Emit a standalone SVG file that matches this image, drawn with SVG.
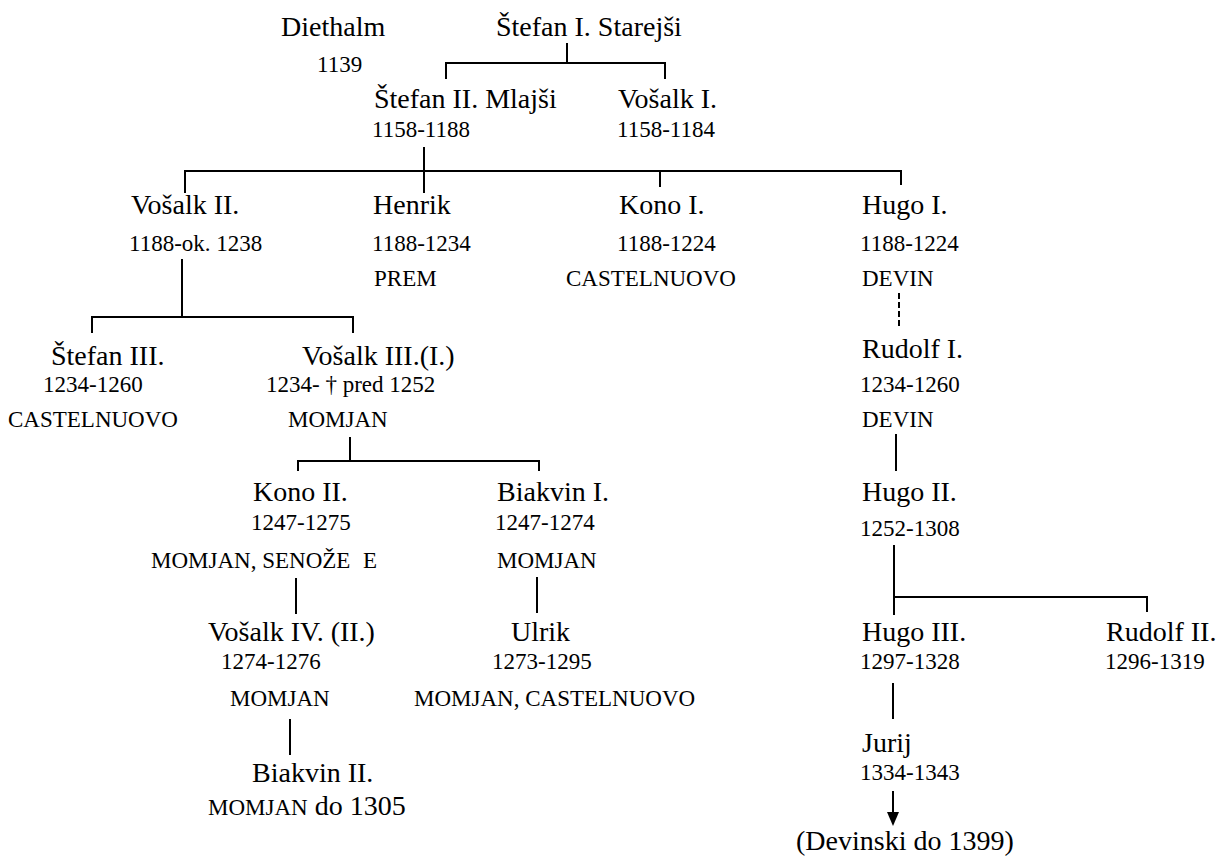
<svg xmlns="http://www.w3.org/2000/svg" width="1220" height="856" viewBox="0 0 1220 856">
<style>
text{font-family:"Liberation Serif","Times New Roman",serif;fill:#000}
.n{font-size:28px}
.d{font-size:23px}
.p{font-size:23px}
.c{stroke:#000;stroke-width:2;fill:none}
.ds{stroke-dasharray:6 3}
</style>
<rect width="1220" height="856" fill="#fff"/>
<g id="connectors">
<path class="c" d="M567 43V63M446 79V63H665V79"/>
<path class="c" d="M424 147V193M185 193V171H901V185M660 171V187"/>
<path class="c" d="M182 259V317M92 333V317H353V333"/>
<path class="c" d="M350 437V461M298 471V461H539V471"/>
<path class="c" d="M296 578V614"/>
<path class="c" d="M537 577V613"/>
<path class="c" d="M290 719V755"/>
<path class="c ds" d="M899 293V328"/>
<path class="c" d="M896 434V471"/>
<path class="c" d="M894 545V615M894 597H1147V612"/>
<path class="c" d="M893 683V719"/>
<path class="c" d="M893 791V814"/>
<polygon points="887,812 899,812 893,826" fill="#000"/>
</g>
<g id="diethalm"><text class="n" x="281" y="36">Diethalm</text><text class="d" x="317" y="72">1139</text></g>
<g id="stefan1"><text class="n" x="496" y="36">Štefan I. Starejši</text></g>
<g id="stefan2"><text class="n" x="374" y="108">Štefan II. Mlajši</text><text class="d" x="372" y="137">1158-1188</text></g>
<g id="vosalk1"><text class="n" x="618" y="108">Vošalk I.</text><text class="d" x="617" y="137">1158-1184</text></g>
<g id="vosalk2"><text class="n" x="131" y="214">Vošalk II.</text><text class="d" x="129" y="251">1188-ok. 1238</text></g>
<g id="henrik"><text class="n" x="373" y="214">Henrik</text><text class="d" x="372" y="251">1188-1234</text><text class="p" x="374" y="286">PREM</text></g>
<g id="kono1"><text class="n" x="619" y="214">Kono I.</text><text class="d" x="617" y="251">1188-1224</text><text class="p" x="566" y="286">CASTELNUOVO</text></g>
<g id="hugo1"><text class="n" x="862" y="214">Hugo I.</text><text class="d" x="860" y="251">1188-1224</text><text class="p" x="862" y="286">DEVIN</text></g>
<g id="stefan3"><text class="n" x="51" y="365">Štefan III.</text><text class="d" x="43" y="392">1234-1260</text><text class="p" x="8" y="427">CASTELNUOVO</text></g>
<g id="vosalk3"><text class="n" x="302" y="365">Vošalk III.(I.)</text><text class="d" x="266" y="392">1234- † pred 1252</text><text class="p" x="288" y="427">MOMJAN</text></g>
<g id="rudolf1"><text class="n" x="862" y="358">Rudolf I.</text><text class="d" x="860" y="392">1234-1260</text><text class="p" x="862" y="427">DEVIN</text></g>
<g id="kono2"><text class="n" x="253" y="501">Kono II.</text><text class="d" x="251" y="530">1247-1275</text><text class="p" x="151" y="568">MOMJAN, SENOŽE<tspan x="363">E</tspan></text></g>
<g id="biakvin1"><text class="n" x="497" y="501">Biakvin I.</text><text class="d" x="495" y="530">1247-1274</text><text class="p" x="497" y="568">MOMJAN</text></g>
<g id="hugo2"><text class="n" x="862" y="501">Hugo II.</text><text class="d" x="860" y="536">1252-1308</text></g>
<g id="vosalk4"><text class="n" x="208" y="641">Vošalk IV. (II.)</text><text class="d" x="221" y="669">1274-1276</text><text class="p" x="230" y="706">MOMJAN</text></g>
<g id="ulrik"><text class="n" x="511" y="641">Ulrik</text><text class="d" x="492" y="669">1273-1295</text><text class="p" x="414" y="706">MOMJAN, CASTELNUOVO</text></g>
<g id="hugo3"><text class="n" x="862" y="641">Hugo III.</text><text class="d" x="860" y="669">1297-1328</text></g>
<g id="rudolf2"><text class="n" x="1106" y="641">Rudolf II.</text><text class="d" x="1105" y="669">1296-1319</text></g>
<g id="biakvin2"><text class="n" x="252" y="782">Biakvin II.</text><text x="208" y="815"><tspan class="p">MOMJAN</tspan><tspan class="n"> do 1305</tspan></text></g>
<g id="jurij"><text class="n" x="862" y="752">Jurij</text><text class="d" x="860" y="780">1334-1343</text></g>
<g id="devinski"><text class="n" x="796" y="850">(Devinski do 1399)</text></g>
</svg>
